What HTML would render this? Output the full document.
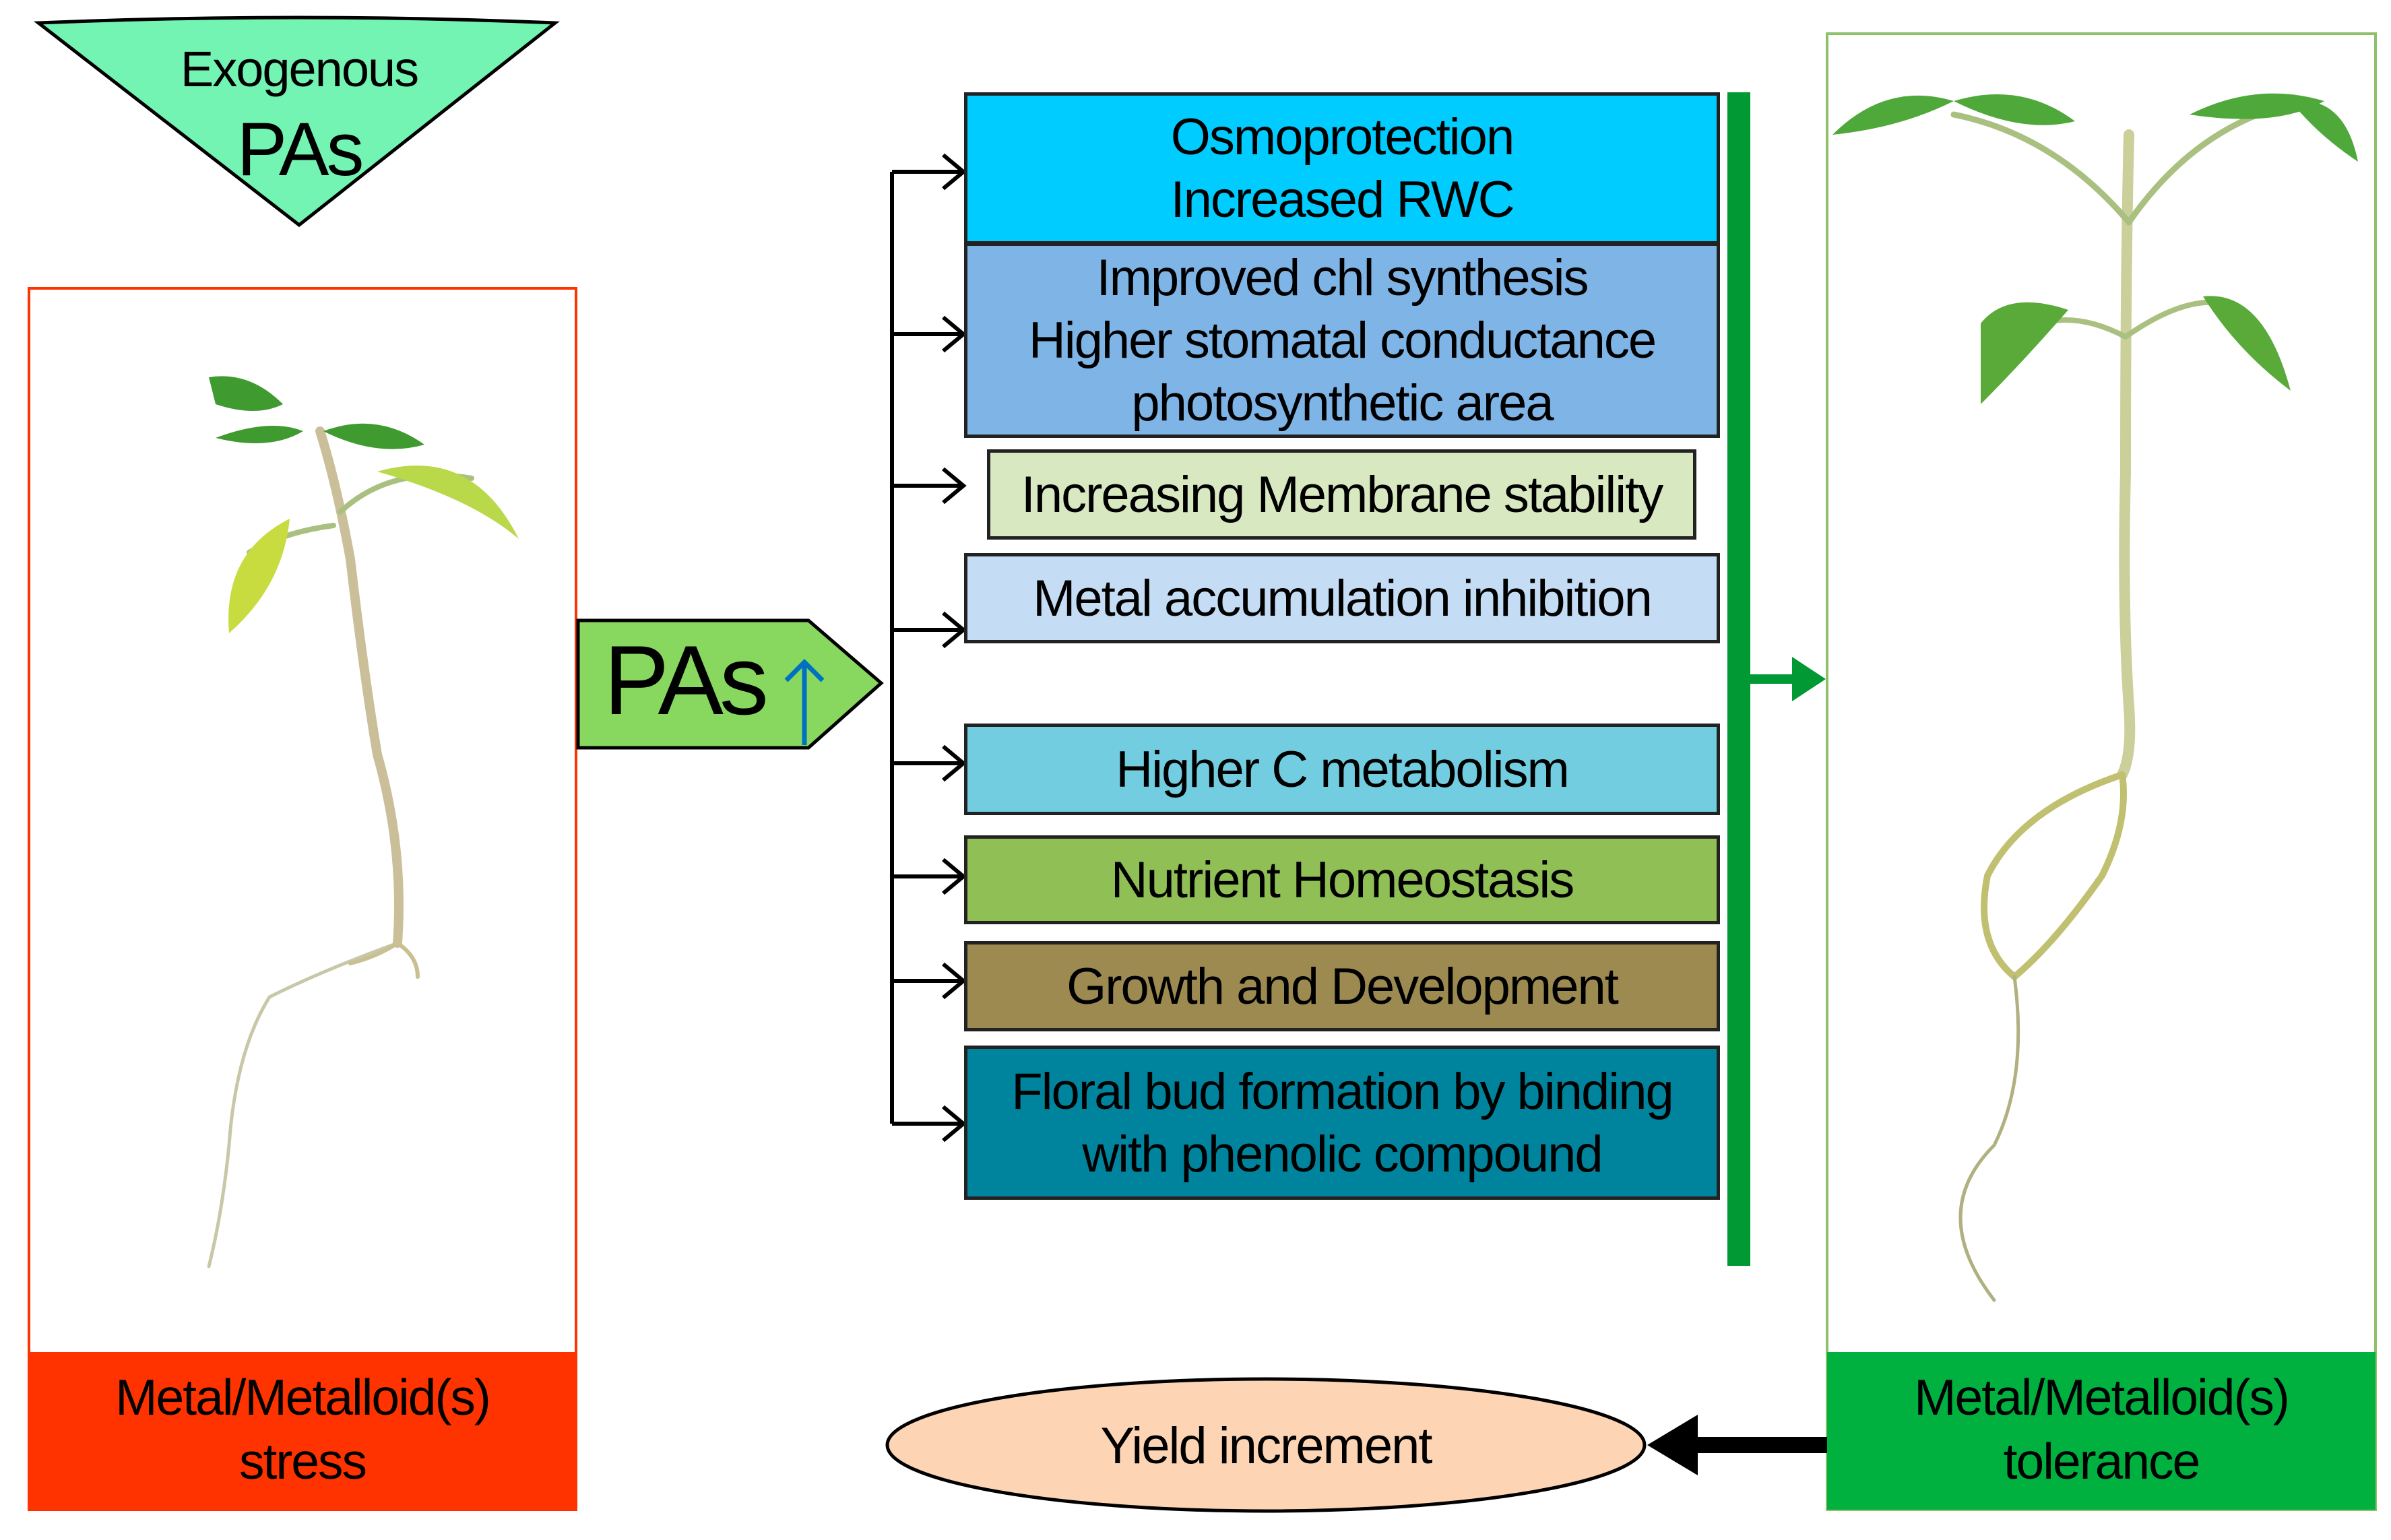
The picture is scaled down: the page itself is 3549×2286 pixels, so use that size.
<!DOCTYPE html>
<html><head><style>
html,body{margin:0;padding:0;background:#fff;}
body{width:3549px;height:2286px;position:relative;overflow:hidden;font-family:"Liberation Sans",sans-serif;}
.b{position:absolute;box-sizing:border-box;border:5px solid #222;display:flex;align-items:center;justify-content:center;text-align:center;font-size:76px;line-height:93px;letter-spacing:-2px;color:#000;}
</style></head><body>
<svg width="3549" height="2286" style="position:absolute;left:0;top:0">
 <path d="M57,34 Q444,18 824,34 L444,334 Z" fill="#73f4b3" stroke="#000" stroke-width="5"/>
 <text x="444" y="128" font-size="74" text-anchor="middle" font-family="Liberation Sans" letter-spacing="-2">Exogenous</text>
 <text x="444" y="260" font-size="112" text-anchor="middle" font-family="Liberation Sans" letter-spacing="-4">PAs</text>
 <rect x="43" y="428" width="812" height="1813" fill="#fff" stroke="#ff3300" stroke-width="4"/>
 <rect x="43" y="2007" width="812" height="234" fill="#ff3300"/>
 <text x="449" y="2100" font-size="75" text-anchor="middle" letter-spacing="-2">Metal/Metalloid(s)</text>
 <text x="449" y="2195" font-size="75" text-anchor="middle" letter-spacing="-2">stress</text>
 <g fill="none" stroke-linecap="round">
  <path d="M475,640 Q500,720 520,830 Q540,1000 560,1120 Q600,1260 590,1400" stroke="#cbbf9a" stroke-width="14"/>
  <path d="M590,1400 Q480,1440 400,1480 Q350,1560 340,1700 Q330,1800 310,1880" stroke="#c8c8a8" stroke-width="5"/>
  <path d="M590,1400 Q560,1420 520,1430 M590,1400 Q620,1420 620,1450" stroke="#c8c090" stroke-width="6"/>
  <path d="M505,760 Q580,690 700,710" stroke="#a9c080" stroke-width="8"/>
  <path d="M495,780 Q420,790 370,820" stroke="#a9c080" stroke-width="8"/>
 </g>
 <path d="M310,560 Q370,550 420,600 Q380,620 320,600 Z" fill="#3f9a30"/>
 <path d="M320,650 Q400,620 450,640 Q400,670 320,650 Z" fill="#3f9a30"/>
 <path d="M480,640 Q560,610 630,660 Q560,680 480,640 Z" fill="#3f9a30"/>
 <path d="M560,700 Q700,660 770,800 Q700,740 560,700 Z" fill="#b9d84a"/>
 <path d="M430,770 Q330,820 340,940 Q420,870 430,770 Z" fill="#c8dc40"/>
 <path d="M858,921 L1200,921 L1308,1014 L1200,1110 L858,1110 Z" fill="#88d860" stroke="#000" stroke-width="5"/>
 <text x="896" y="1060" font-size="146" font-family="Liberation Sans" letter-spacing="-6">PAs</text>
 <path d="M1194,1106 L1194,985 M1167,1010 L1194,983 L1221,1010" stroke="#0070c0" stroke-width="7" fill="none"/>
 <path d="M1324,255 L1324,1668" stroke="#000" stroke-width="6"/>
 <g stroke="#000" stroke-width="6" fill="none">
  <path d="M1324,255 H1428 M1400,230 L1430,255 L1400,280"/>
  <path d="M1324,496 H1428 M1400,471 L1430,496 L1400,521"/>
  <path d="M1324,721 H1428 M1400,696 L1430,721 L1400,746"/>
  <path d="M1324,935 H1428 M1400,910 L1430,935 L1400,960"/>
  <path d="M1324,1133 H1428 M1400,1108 L1430,1133 L1400,1158"/>
  <path d="M1324,1301 H1428 M1400,1276 L1430,1301 L1400,1326"/>
  <path d="M1324,1456 H1428 M1400,1431 L1430,1456 L1400,1481"/>
  <path d="M1324,1668 H1428 M1400,1643 L1430,1668 L1400,1693"/>
 </g>
 <rect x="2564" y="137" width="34" height="1742" fill="#009933"/>
 <path d="M2598,1008 H2680" stroke="#009933" stroke-width="14"/>
 <path d="M2660,975 L2710,1008 L2660,1041 Z" fill="#009933"/>
 <rect x="2712" y="50" width="814" height="2191" fill="#fff" stroke="#8fc06a" stroke-width="4"/>
 <rect x="2712" y="2007" width="814" height="234" fill="#00b140"/>
 <text x="3119" y="2100" font-size="75" text-anchor="middle" letter-spacing="-2">Metal/Metalloid(s)</text>
 <text x="3119" y="2195" font-size="75" text-anchor="middle" letter-spacing="-2">tolerance</text>
 <g fill="none" stroke-linecap="round">
  <path d="M3160,200 Q3155,400 3155,700 Q3150,900 3160,1050 Q3165,1120 3150,1150" stroke="#cbcf9a" stroke-width="16"/>
  <path d="M3150,1150 Q3000,1200 2950,1300 Q2930,1400 2990,1450 Q3050,1400 3120,1300 Q3160,1220 3150,1150" stroke="#c0c070" stroke-width="10"/>
  <path d="M2990,1450 Q3010,1600 2960,1700 Q2860,1800 2960,1930" stroke="#b0b080" stroke-width="5"/>
  <path d="M3160,330 Q3050,200 2900,170 M3160,330 Q3250,200 3380,160" stroke="#a9c080" stroke-width="9"/>
  <path d="M3155,500 Q3060,450 2990,500 M3155,500 Q3240,440 3300,450" stroke="#a9c080" stroke-width="8"/>
 </g>
 <path d="M2720,200 Q2800,120 2900,150 Q2820,190 2720,200 Z" fill="#4fa83a"/>
 <path d="M2900,150 Q3000,120 3080,180 Q3000,200 2900,150 Z" fill="#4fa83a"/>
 <path d="M3250,170 Q3350,120 3450,150 Q3380,190 3250,170 Z" fill="#4fa83a"/>
 <path d="M3400,150 Q3480,140 3500,240 Q3440,200 3400,150 Z" fill="#4fa83a"/>
 <path d="M2940,480 Q2980,430 3070,460 Q3000,540 2940,600 Z" fill="#5aaa3a"/>
 <path d="M3270,440 Q3360,430 3400,580 Q3320,520 3270,440 Z" fill="#5aaa3a"/>
 <ellipse cx="1879" cy="2145" rx="562" ry="98" fill="#fdd5b5" stroke="#000" stroke-width="5"/>
 <text x="1879" y="2172" font-size="76" text-anchor="middle" letter-spacing="-2">Yield increment</text>
 <path d="M2712,2145 H2500" stroke="#000" stroke-width="24"/>
 <path d="M2520,2100 L2445,2145 L2520,2190 Z" fill="#000"/>
</svg>
<div class="b" style="left:1431px;top:137px;width:1122px;height:226px;background:#00ccff;">Osmoprotection<br>Increased RWC</div>
<div class="b" style="left:1431px;top:360px;width:1122px;height:290px;background:#7eb4e6;">Improved chl synthesis<br>Higher stomatal conductance<br>photosynthetic area</div>
<div class="b" style="left:1465px;top:667px;width:1053px;height:134px;background:#d8e8c0;">Increasing Membrane stability</div>
<div class="b" style="left:1431px;top:821px;width:1122px;height:134px;background:#c4dcf4;">Metal accumulation inhibition</div>
<div class="b" style="left:1431px;top:1074px;width:1122px;height:136px;background:#72cde0;">Higher C metabolism</div>
<div class="b" style="left:1431px;top:1240px;width:1122px;height:132px;background:#8fbf55;">Nutrient Homeostasis</div>
<div class="b" style="left:1431px;top:1397px;width:1122px;height:134px;background:#9c8a50;">Growth and Development</div>
<div class="b" style="left:1431px;top:1552px;width:1122px;height:229px;background:#00849e;">Floral bud formation by binding<br>with phenolic compound</div>
</body></html>
